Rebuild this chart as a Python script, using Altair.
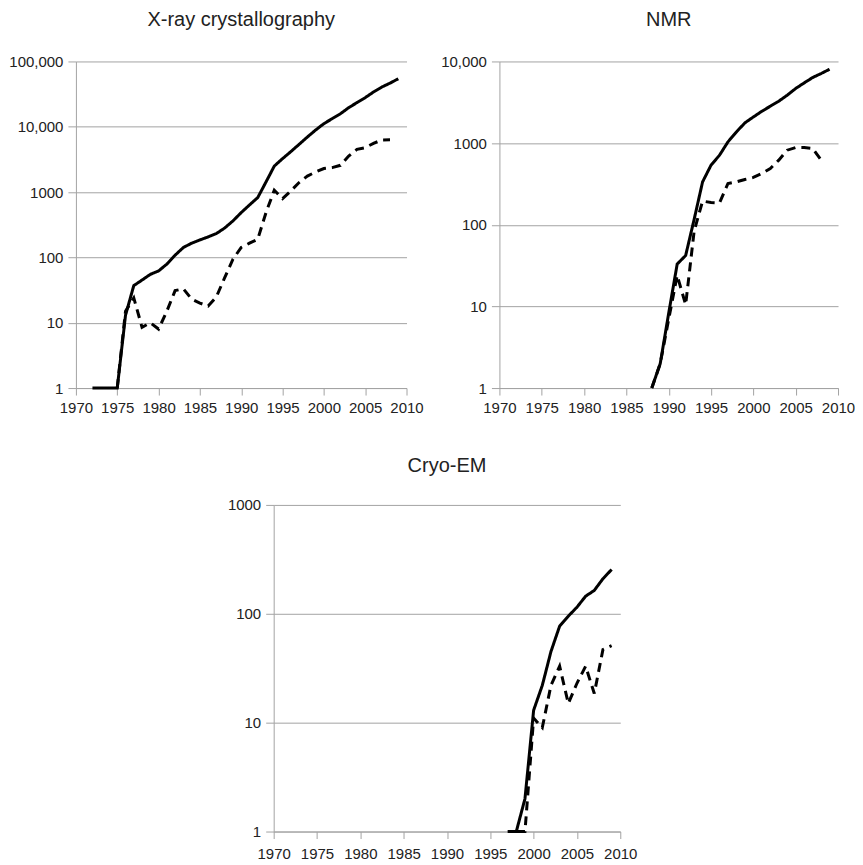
import altair as alt
import pandas as pd

# ---------------- data ----------------
xray_years = list(range(1972, 2010))
xray_total = [1, 1, 1, 1, 13, 37, 45, 55, 62, 79, 108, 142, 165, 185, 206, 232, 282, 362,
              486, 635, 824, 1430, 2500, 3250, 4160, 5380, 6960, 8910, 11150, 13300, 15800,
              19600, 23400, 27900, 34000, 40500, 46500, 54300]
xray_new_years = list(range(1975, 2009))
xray_new = [1, 15, 24, 8.5, 10, 8, 15, 31, 33, 23, 20, 18, 25, 49, 94, 142, 165, 190, 486,
            1070, 795, 1040, 1400, 1760, 2030, 2290, 2370, 2570, 3560, 4510, 4790, 5570,
            6270, 6300]

nmr_years = list(range(1988, 2010))
nmr_total = [1, 2, 8.3, 33, 42, 116, 335, 537, 711, 1036, 1370, 1770, 2090, 2450, 2830,
             3260, 3860, 4660, 5460, 6350, 7110, 8020]
nmr_new_years = list(range(1988, 2009))
nmr_new = [1, 2, 7, 24, 10.5, 83, 195, 187, 185, 320, 335, 358, 380, 425, 489, 618, 819,
           883, 883, 860, 620]

cryo_years = list(range(1997, 2010))
cryo_total = [1, 1, 2, 13, 22, 45, 77, 95, 115, 145, 164, 210, 255]
cryo_new_years = list(range(1998, 2010))
cryo_new = [1, 1, 11, 9, 22, 33, 15, 23, 33, 18.5, 47, 51]

titles = ["X-ray crystallography", "NMR", "Cryo-EM"]
x_ticks = [1970, 1975, 1980, 1985, 1990, 1995, 2000, 2005, 2010]
decades = [1, 10, 100, 1000, 10000, 100000]

FONT = "Liberation Sans"
GRID = "#a3a3a3"
TEXT = "#222222"


def frame(years, values, series):
    return pd.DataFrame({"year": years, "value": values, "series": series})


def panel(title, yrs, tot, nyrs, new, ymax, width, x_pad, t_off):
    df = pd.concat([frame(yrs, tot, "total"), frame(nyrs, new, "new")], ignore_index=True)
    x = alt.X(
        "year:Q",
        scale=alt.Scale(domain=[1970, 2010], nice=False, zero=False),
        axis=alt.Axis(values=x_ticks, format="d", grid=False, title=None,
                      labelPadding=x_pad, tickSize=7, tickColor=GRID, domainColor=GRID,
                      labelFont=FONT, labelFontSize=15, labelColor=TEXT,
                      labelOverlap=False, labelFlush=False),
    )
    y = alt.Y(
        "value:Q",
        scale=alt.Scale(type="log", domain=[1, ymax], nice=False),
        axis=alt.Axis(values=[d for d in decades if d <= ymax], title=None, grid=True,
                      gridColor=GRID, gridWidth=1, tickSize=8, tickColor=GRID,
                      domainColor=GRID, labelPadding=5, labelFont=FONT, labelFontSize=15,
                      labelColor=TEXT, labelFlush=False, labelOverlap=False,
                      labelExpr="datum.value >= 10000 ? format(datum.value, ',') : format(datum.value, 'd')"),
    )
    return alt.Chart(df).mark_line(color="black", strokeWidth=3).encode(
        x=x,
        y=y,
        strokeDash=alt.StrokeDash(
            "series:N",
            scale=alt.Scale(domain=["total", "new"], range=[[1, 0], [9, 6]]),
            legend=None,
        ),
    ).properties(
        width=width,
        height=327,
        title=alt.TitleParams(title, font=FONT, fontSize=20, fontWeight="normal",
                              color=TEXT, anchor="middle", frame="group", offset=t_off),
    )


p1 = panel(titles[0], xray_years, xray_total, xray_new_years, xray_new, 100000, 331, 5, 24)
p2 = panel(titles[1], nmr_years, nmr_total, nmr_new_years, nmr_new, 10000, 339, 5, 24)
p3 = panel(titles[2], cryo_years, cryo_total, cryo_new_years, cryo_new, 1000, 347, 8, 22)

# invisible spacer that pushes the Cryo-EM panel to the right
spacer = alt.Chart(pd.DataFrame({"s": [0]})).mark_rect(opacity=0).encode(
    x=alt.value(0), x2=alt.value(198), y=alt.value(0), y2=alt.value(10)
).properties(width=198, height=327)

top = alt.hconcat(p1, p2, spacing=93, bounds="flush")
bottom = alt.hconcat(spacer, p3, spacing=0, bounds="flush")

chart = alt.vconcat(top, bottom, spacing=41).properties(
    padding={"left": 0, "top": 2, "right": 0, "bottom": 0},
    background="white",
).configure_view(strokeWidth=0)

chart.save("out.html", embed_options={"renderer": "svg", "actions": False})
